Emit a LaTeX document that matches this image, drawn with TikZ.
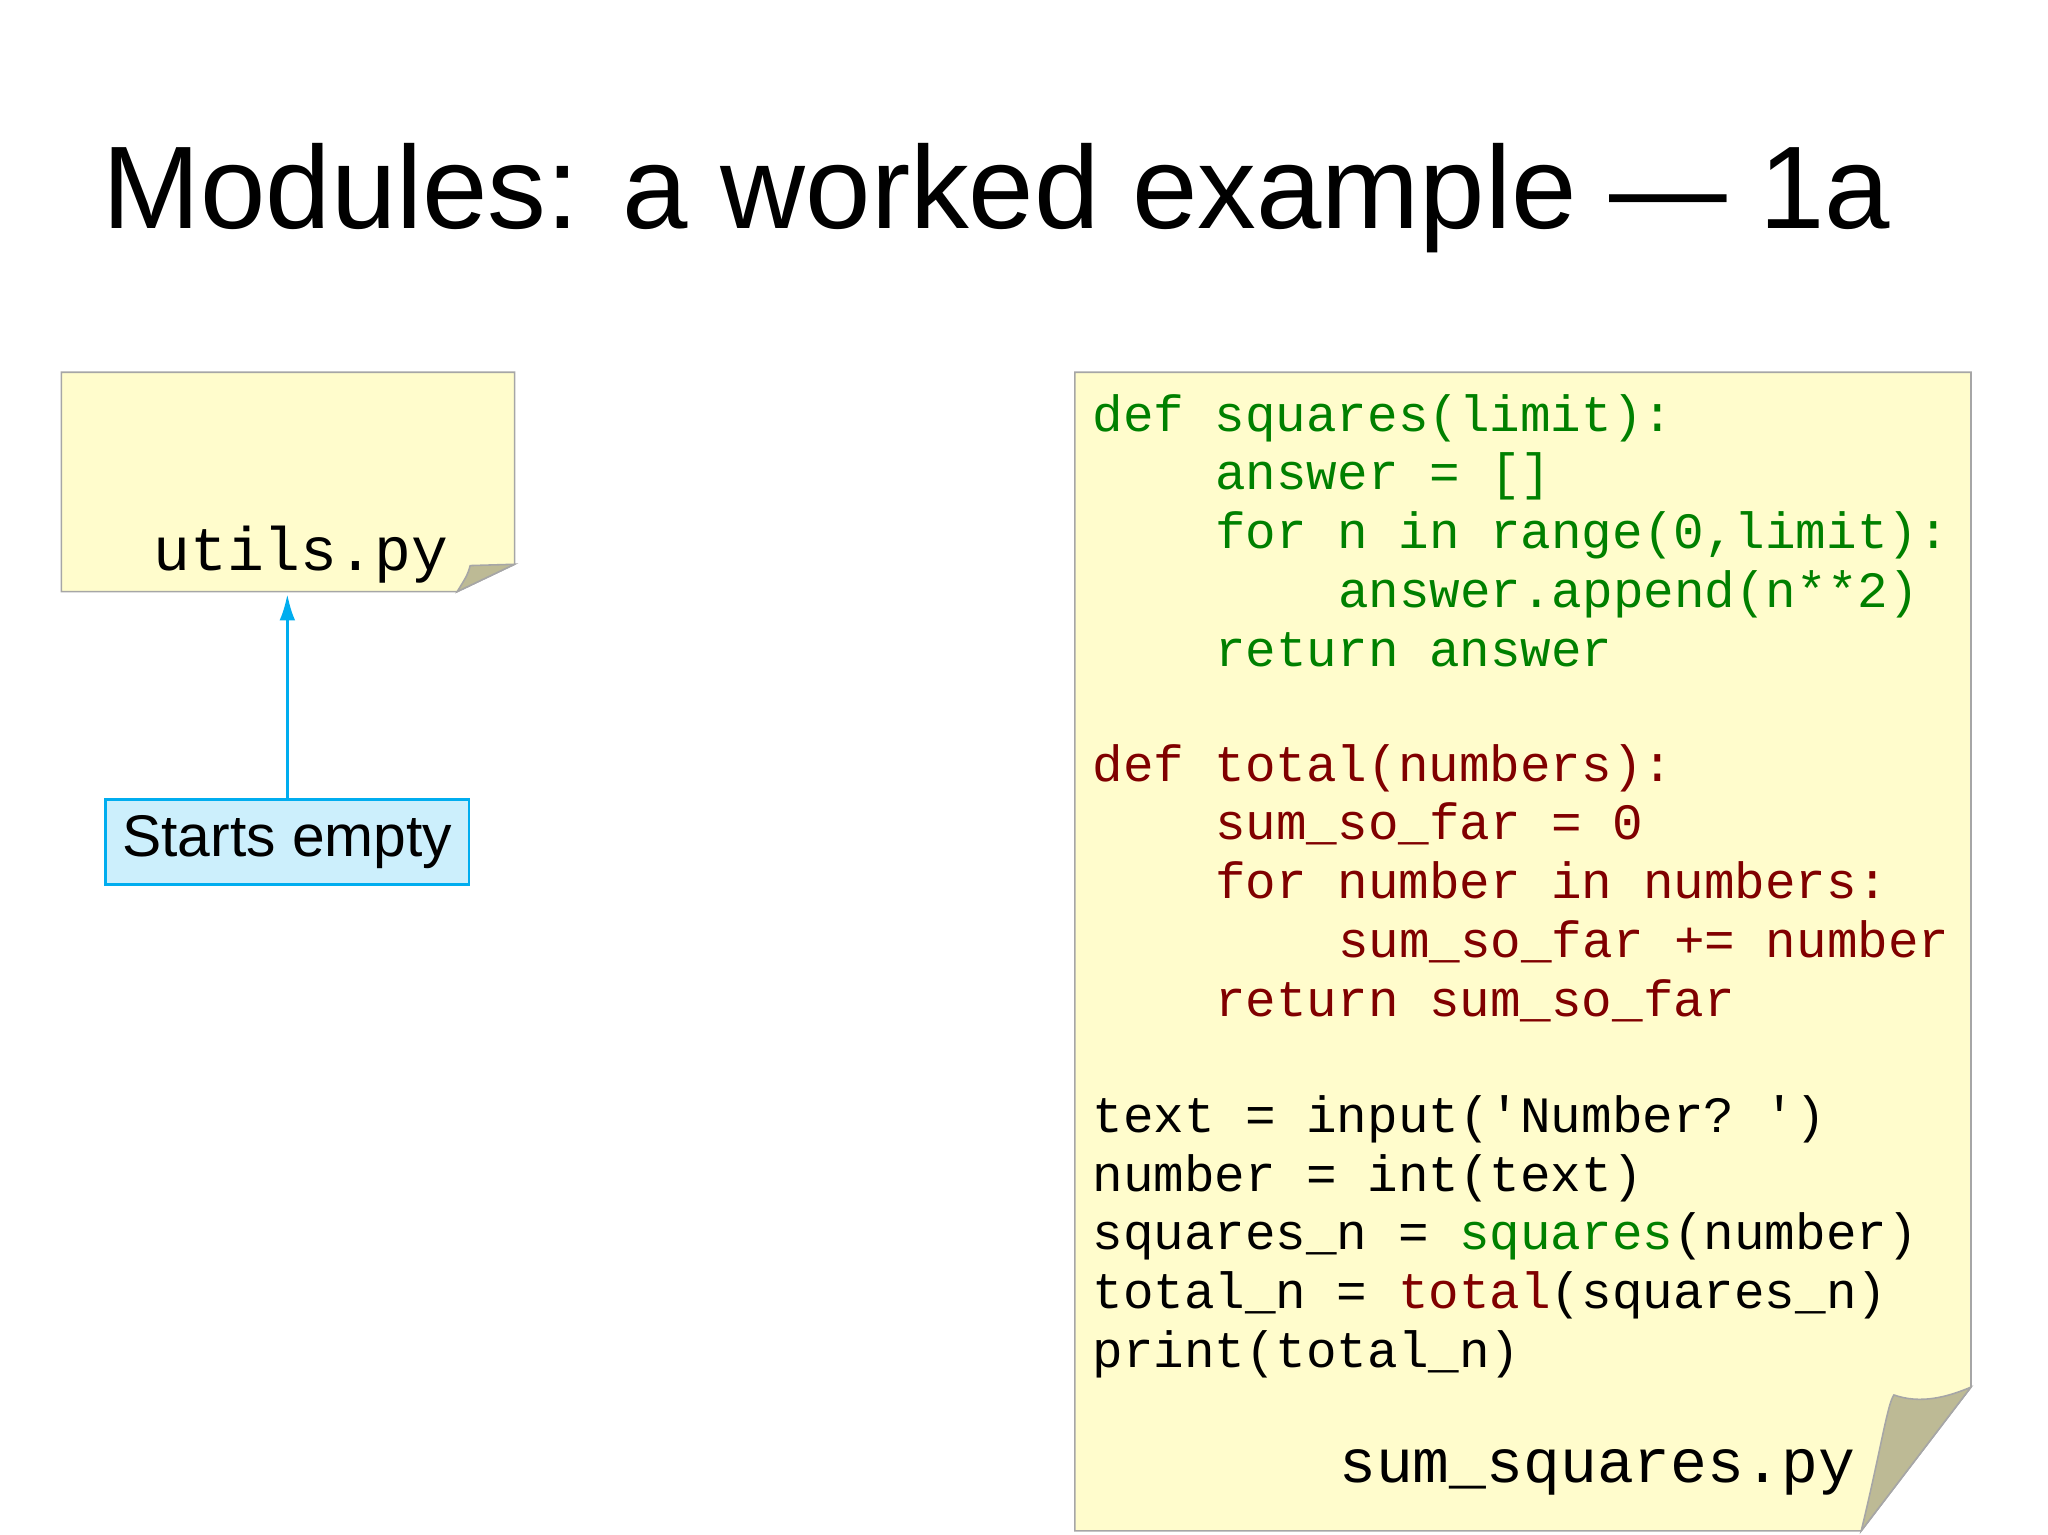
\documentclass[tikz,border=0pt]{standalone}
\usepackage{fontspec}
\usetikzlibrary{arrows.meta}
\setmainfont{Liberation Sans}
\setmonofont{Liberation Mono}
\begin{document}
\begin{tikzpicture}[x=0.5pt,y=-0.5pt,
  paper/.style={fill=yellow!20!white,draw=gray!70,line width=0.6pt},
  fold/.style={fill=olive!35!gray!60!white,draw=gray!70,line width=0.6pt},
  code/.style={anchor=base west,inner sep=0pt,font=\fontsize{19.5}{22}\ttfamily},
  fname/.style={anchor=base west,inner sep=0pt,font=\fontsize{23.5}{26}\ttfamily}]
\definecolor{cg}{HTML}{008000}
\definecolor{cr}{HTML}{800000}
\useasboundingbox (0,0) rectangle (1568,1175);
\node[anchor=base west,inner sep=0pt,font=\fontsize{45}{50}\selectfont] (title) at (78,175) {Modules: a worked example — 1a};
% utils box
\path[paper] (47,285) -- (394,285) -- (394,432) -- (350,453) -- (47,453) -- cycle;
\path[fold] (350,453) .. controls (358,440) .. (360,433) -- (394,432) -- cycle;
\node[fname] (utils) at (117,437) {utils.py};
\coordinate (ubot) at (220,455);
\node[draw=cyan,fill=cyan!20,line width=1pt,minimum width=139pt,minimum height=32.5pt,inner sep=0pt,font=\fontsize{22.5}{25}\selectfont] (starts) at (220,644.5) {Starts empty};
\draw[cyan,line width=1pt,-{Latex[length=10pt,width=6pt]}] (starts.north) -- (ubot);
% big box
\path[paper] (823,285) -- (1509,285) -- (1509,1062) -- (1425,1172) -- (823,1172) -- cycle;
\path[fold] (1425,1172) .. controls (1440,1110) and (1445,1075) .. (1450,1068) .. controls (1470,1075) and (1490,1070) .. (1509,1062) -- cycle;
\node[code,text=cg] (l1) at (836,330) {def squares(limit):};
\node[code,text=cg] (l2) at (930,375) {answer = []};
\node[code,text=cg] (l3) at (930,420) {for n in range(0,limit):};
\node[code,text=cg] (l4) at (1024,465) {answer.append(n**2)};
\node[code,text=cg] (l5) at (930,510) {return answer};
\node[code,text=cr] (m1) at (836,598) {def total(numbers):};
\node[code,text=cr] (m2) at (930,643) {sum\_so\_far = 0};
\node[code,text=cr] (m3) at (930,688) {for number in numbers:};
\node[code,text=cr] (m4) at (1024,733) {sum\_so\_far += number};
\node[code,text=cr] (m5) at (930,778) {return sum\_so\_far};
\node[code] (n1) at (836,867) {text = input('Number? ')};
\node[code] (n2) at (836,912) {number = int(text)};
\node[code] (n3) at (836,957) {squares\_n = \textcolor{cg}{squares}(number)};
\node[code] (n4) at (836,1002) {total\_n = \textcolor{cr}{total}(squares\_n)};
\node[code] (n5) at (836,1047) {print(total\_n)};
\node[fname] (sumsq) at (1025,1135) {sum\_squares.py};
\end{tikzpicture}
\end{document}
